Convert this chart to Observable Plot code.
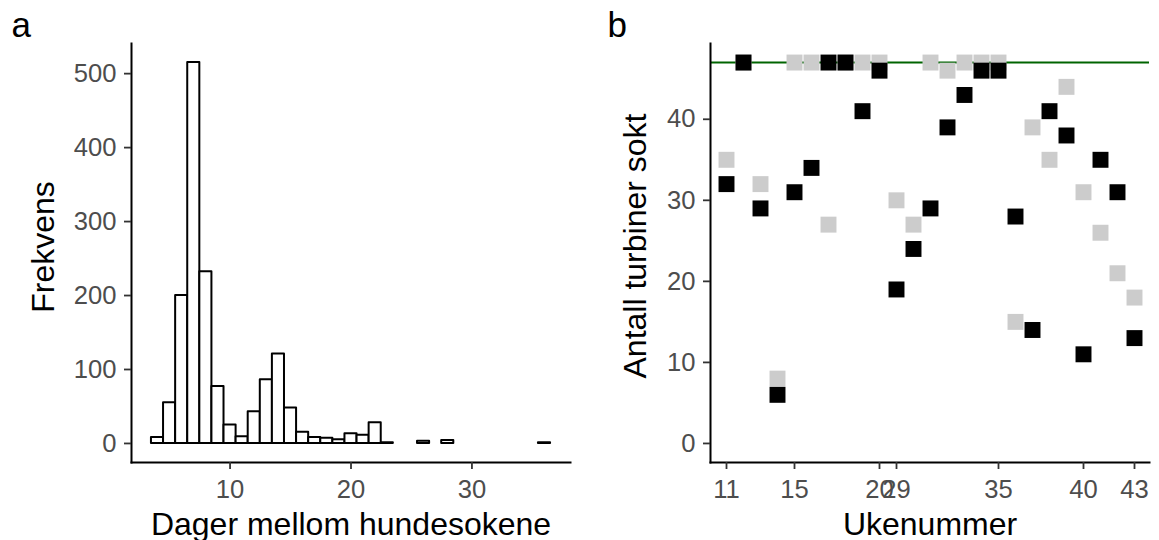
<!DOCTYPE html>
<html>
<head>
<meta charset="utf-8">
<script src="https://cdn.jsdelivr.net/npm/d3@7"></script>
<script src="https://cdn.jsdelivr.net/npm/@observablehq/plot@0.6"></script>
<style>
  html, body { margin: 0; padding: 0; background: #ffffff; }
  #chart { position: relative; width: 1159px; height: 540px; background: #ffffff; overflow: hidden; }
  #chart svg { position: absolute; top: 0; }
</style>
</head>
<body>
<div id="chart"></div>
<script>
// Panel a: days between dog searches (one-day bins, centred on whole days)
const binDays   = [4, 5, 6, 7, 8, 9, 10, 11, 12, 13, 14, 15, 16, 17, 18, 19, 20, 21, 22, 23, 26, 28, 36];
const binCounts = [8, 55, 200, 515, 232, 77, 25, 9, 43, 86, 121, 48, 15, 8, 7, 5, 13, 11, 28, 1, 3, 4, 1];
const dayTicks  = [10, 20, 30];
const freqTicks = [0, 100, 200, 300, 400, 500];

// Panel b: turbines searched per week, two series, plus the total number of turbines
const weeks         = [11, 12, 13, 14, 15, 16, 17, 18, 19, 20, 29, 30, 31, 32, 33, 34, 35, 36, 37, 38, 39, 40, 41, 42, 43];
const greySearched  = [35, 47, 32, 8, 47, 47, 27, 47, 47, 47, 30, 27, 47, 46, 47, 47, 47, 15, 39, 35, 44, 31, 26, 21, 18];
const blackSearched = [32, 47, 29, 6, 31, 34, 47, 47, 41, 46, 19, 24, 29, 39, 43, 46, 46, 28, 14, 41, 38, 11, 35, 31, 13];
const totalTurbines = [47];
const weekTicks     = [11, 15, 20, 29, 35, 40, 43];
const countTicks    = [0, 10, 20, 30, 40];

const font = '"Liberation Sans", Arial, Helvetica, sans-serif';
const tickText = 25.6;
const titleText = 32;
const tagText = 35;
const lineWidth = 2;

const histRows = binDays.map((day, i) => ({day, count: binCounts[i]}));
const weekRows = weeks.map((week, i) => ({week, grey: greySearched[i], black: blackSearched[i]}));

const axisStyle = {
  tickSize: 7,
  strokeWidth: 1.8,
  stroke: "#333333",
  fill: "#4d4d4d",
  fontSize: tickText,
  label: null
};

const panelA = Plot.plot({
  width: 580,
  height: 540,
  marginLeft: 131,
  marginRight: 10,
  marginTop: 43,
  marginBottom: 78,
  style: {fontFamily: font, background: "transparent", overflow: "visible"},
  x: {domain: [1.85, 38.15]},
  y: {domain: [-25.75, 540.75]},
  marks: [
    Plot.rectY(histRows, {
      x1: d => d.day - 0.5,
      x2: d => d.day + 0.5,
      y1: 0,
      y2: "count",
      fill: "white",
      stroke: "black",
      strokeWidth: lineWidth,
      strokeLinejoin: "round"
    }),
    Plot.frame({anchor: "left", stroke: "black", strokeWidth: lineWidth}),
    Plot.frame({anchor: "bottom", stroke: "black", strokeWidth: lineWidth}),
    Plot.axisX(dayTicks, {...axisStyle, tickPadding: 10}),
    Plot.axisY(freqTicks, {...axisStyle, tickPadding: 8}),
    Plot.text(["Frekvens"], {frameAnchor: "left", textAnchor: "middle", dx: -88, dy: -6, rotate: -90, fontSize: titleText, fill: "black"}),
    Plot.text(["Dager mellom hundesokene"], {frameAnchor: "bottom", dy: 72, lineAnchor: "bottom", fontSize: titleText, fill: "black"}),
    Plot.text(["a"], {frameAnchor: "top-left", dx: -120, dy: -7, lineAnchor: "bottom", textAnchor: "start", fontSize: tagText, fill: "black"})
  ]
});

const panelB = Plot.plot({
  width: 579,
  height: 540,
  marginLeft: 130,
  marginRight: 10,
  marginTop: 43,
  marginBottom: 78,
  style: {fontFamily: font, background: "transparent", overflow: "visible"},
  x: {type: "point", domain: weeks, padding: 0.6},
  y: {domain: [-2.35, 49.35]},
  marks: [
    Plot.ruleY(totalTurbines, {stroke: "#006400", strokeWidth: 2}),
    Plot.dot(weekRows, {x: "week", y: "grey", symbol: "square", r: 9, fill: "#cccccc", stroke: null}),
    Plot.dot(weekRows, {x: "week", y: "black", symbol: "square", r: 9, fill: "#000000", stroke: null}),
    Plot.frame({anchor: "left", stroke: "black", strokeWidth: lineWidth}),
    Plot.frame({anchor: "bottom", stroke: "black", strokeWidth: lineWidth}),
    Plot.axisX(weekTicks, {...axisStyle, tickPadding: 10}),
    Plot.axisY(countTicks, {...axisStyle, tickPadding: 8}),
    Plot.text(["Antall turbiner sokt"], {frameAnchor: "left", textAnchor: "middle", dx: -75, dy: -7, rotate: -90, fontSize: titleText, fill: "black"}),
    Plot.text(["Ukenummer"], {frameAnchor: "bottom", dy: 72, lineAnchor: "bottom", fontSize: titleText, fill: "black"}),
    Plot.text(["b"], {frameAnchor: "top-left", dx: -103, dy: -7, lineAnchor: "bottom", textAnchor: "start", fontSize: tagText, fill: "black"})
  ]
});

panelA.style.left = "0px";
panelB.style.left = "580px";
const chart = document.getElementById("chart");
chart.appendChild(panelA);
chart.appendChild(panelB);
</script>
</body>
</html>
